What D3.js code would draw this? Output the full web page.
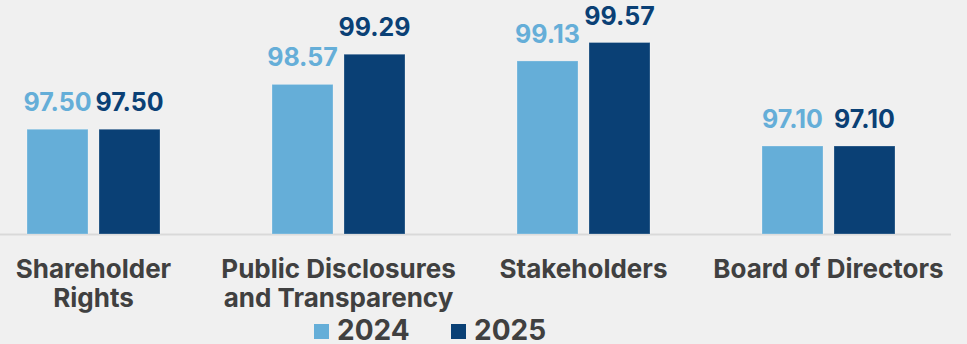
<!DOCTYPE html>
<html>
<head>
<meta charset="utf-8">
<script src="https://cdn.jsdelivr.net/npm/d3@7"></script>
<style>
  html, body { margin: 0; padding: 0; background: #f0f0f0; }
  svg { display: block; }
  svg text { font-family: "Inter", "Inter Variable", Roboto, sans-serif; }
</style>
</head>
<body>
<svg id="chart" width="967" height="344"></svg>
<script>
// Governance pillar scores by year
const categories = [
  ["Shareholder", "Rights"],
  ["Public Disclosures", "and Transparency"],
  ["Stakeholders"],
  ["Board of Directors"]
];
const seriesNames = ["2024", "2025"];
const values2024 = [97.50, 98.57, 99.13, 97.10];
const values2025 = [97.50, 99.29, 99.57, 97.10];
const seriesColors = ["#65aed8", "#0a4075"];

const svg = d3.select("#chart");

const catKeys = categories.map(c => c.join(" "));
const seriesValues = [values2024, values2025];

const x0 = d3.scaleBand().domain(catKeys).range([-29, 951]).padding(0);
const groupWidth = 133;
const x1 = d3.scaleBand().domain(seriesNames)
  .range([(x0.bandwidth() - groupWidth) / 2, (x0.bandwidth() + groupWidth) / 2])
  .paddingInner(0.153).paddingOuter(0);
const y = d3.scaleLinear().domain([95, 100]).range([234, 24.5]);

// baseline axis
svg.append("line")
  .attr("x1", 0).attr("x2", 951)
  .attr("y1", y(95) + 0.5).attr("y2", y(95) + 0.5)
  .attr("stroke", "#d9d9d9").attr("stroke-width", 2);

const groups = svg.selectAll("g.group")
  .data(catKeys)
  .join("g")
  .attr("class", "group")
  .attr("transform", d => `translate(${x0(d)},0)`);

groups.each(function(cat, i) {
  const g = d3.select(this);
  seriesNames.forEach((s, j) => {
    const v = seriesValues[j][i];
    g.append("rect")
      .attr("x", x1(s))
      .attr("y", y(v))
      .attr("width", x1.bandwidth())
      .attr("height", y(95) - y(v))
      .attr("fill", seriesColors[j])
      .attr("stroke", "rgba(255,255,255,0.25)")
      .attr("stroke-width", 1);
    g.append("text")
      .attr("x", x1(s) + x1.bandwidth() / 2)
      .attr("y", y(v) - 18)
      .attr("text-anchor", "middle")
      .attr("font-size", 25)
      .attr("font-weight", 700)
      .attr("fill", seriesColors[j])
      .text(v.toFixed(2));
  });
});

// category labels
const xAxis = d3.axisBottom(x0).tickSize(0).tickFormat("");
const axisG = svg.append("g").attr("transform", `translate(0,${y(95)})`).call(xAxis);
axisG.select(".domain").remove();
axisG.selectAll(".tick").each(function(d, i) {
  const t = d3.select(this).append("text")
    .attr("text-anchor", "middle")
    .attr("font-size", 26)
    .attr("font-weight", 700)
    .attr("fill", "#404040");
  categories[i].forEach((line, k) => {
    t.append("tspan").attr("x", 0).attr("y", 44 + k * 29).text(line);
  });
});

// legend
const legendX = [314, 451];
const legend = svg.append("g");
seriesNames.forEach((s, j) => {
  legend.append("rect")
    .attr("x", legendX[j]).attr("y", 324)
    .attr("width", 15).attr("height", 15)
    .attr("fill", seriesColors[j]);
  legend.append("text")
    .attr("x", legendX[j] + 23).attr("y", 339.5)
    .attr("font-size", 28).attr("font-weight", 700)
    .attr("fill", "#404040")
    .text(s);
});
</script>
</body>
</html>
